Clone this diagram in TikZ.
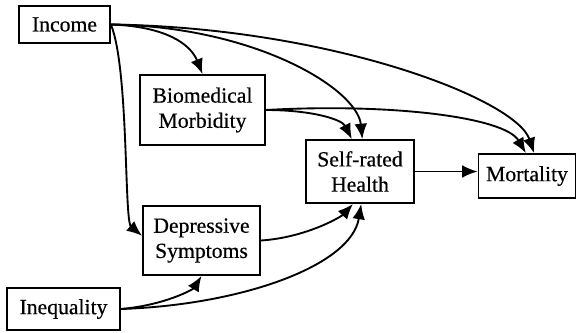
\documentclass[tikz,border=0pt]{standalone}
\usepackage{fontspec}
\setmainfont{Liberation Serif}[BoldFont={Liberation Serif}, BoldFeatures={FakeBold=0.5}]
\usetikzlibrary{arrows.meta,positioning}

\begin{document}
\begin{tikzpicture}[x=0.3mm, y=-0.3mm,
  box/.style={draw, line width=1.6pt, align=center, inner sep=3pt, font=\fontsize{18.5}{21.5}\selectfont\bfseries},
  arrow/.style={-{Latex[length=4.6mm,width=3.8mm]}, line width=1.6pt},
]
\useasboundingbox (0,0) rectangle (578,332);

% ── Boxes ──
\node[box, minimum width=2.73cm, minimum height=1.11cm] (income) at (64.5,24.5) {Income};
\node[box, minimum width=3.75cm, minimum height=2.1cm] (biomed) at (202.5,110) {Biomedical\\Morbidity};
\node[box, minimum width=3.24cm, minimum height=1.89cm] (health) at (360,171.5) {Self-rated\\Health};
\node[box, minimum width=2.91cm, minimum height=1.32cm] (mortality) at (527,176) {Mortality};
\node[box, minimum width=3.51cm, minimum height=2.07cm] (depress) at (201.5,240.5) {Depressive\\Symptoms};
\node[box, minimum width=3.39cm, minimum height=1.26cm] (inequality) at (63.5,309) {Inequality};

% ── Paths from income ──
\draw[arrow] (income.east) .. controls +(55,2) and +(-12,-30) .. (biomed.north);
\draw[arrow] (income.east) .. controls +(18,45) and +(-18,-15) .. ([yshift=4pt]depress.west);
\draw[arrow] (income.east) .. controls +(145,2) and +(-5,-50) .. ([xshift=2pt]health.north);
\draw[arrow] (income.east) .. controls +(220,3) and +(-18,-54) .. ([xshift=6pt]mortality.north);

% ── Paths from morbidity ──
\draw[arrow] (biomed.east) .. controls +(45,0) and +(-10,-20) .. ([xshift=-7pt]health.north);
\draw[arrow] (biomed.east) .. controls +(125,-7) and +(-21,-36) .. ([xshift=-1pt]mortality.north);

% ── Paths into health ──
\draw[arrow] (depress.east) .. controls +(45,-3) and +(-12,13) .. ([xshift=-6pt]health.south);
\draw[arrow] (inequality.east) .. controls +(45,-4) and +(-8,13) .. (depress.south);
\draw[arrow] (inequality.east) .. controls +(120,-4) and +(-10,62) .. ([xshift=1pt]health.south);

% Health to mortality
\draw[arrow] (health.east) -- (health.east -| mortality.west);

\end{tikzpicture}
\end{document}
